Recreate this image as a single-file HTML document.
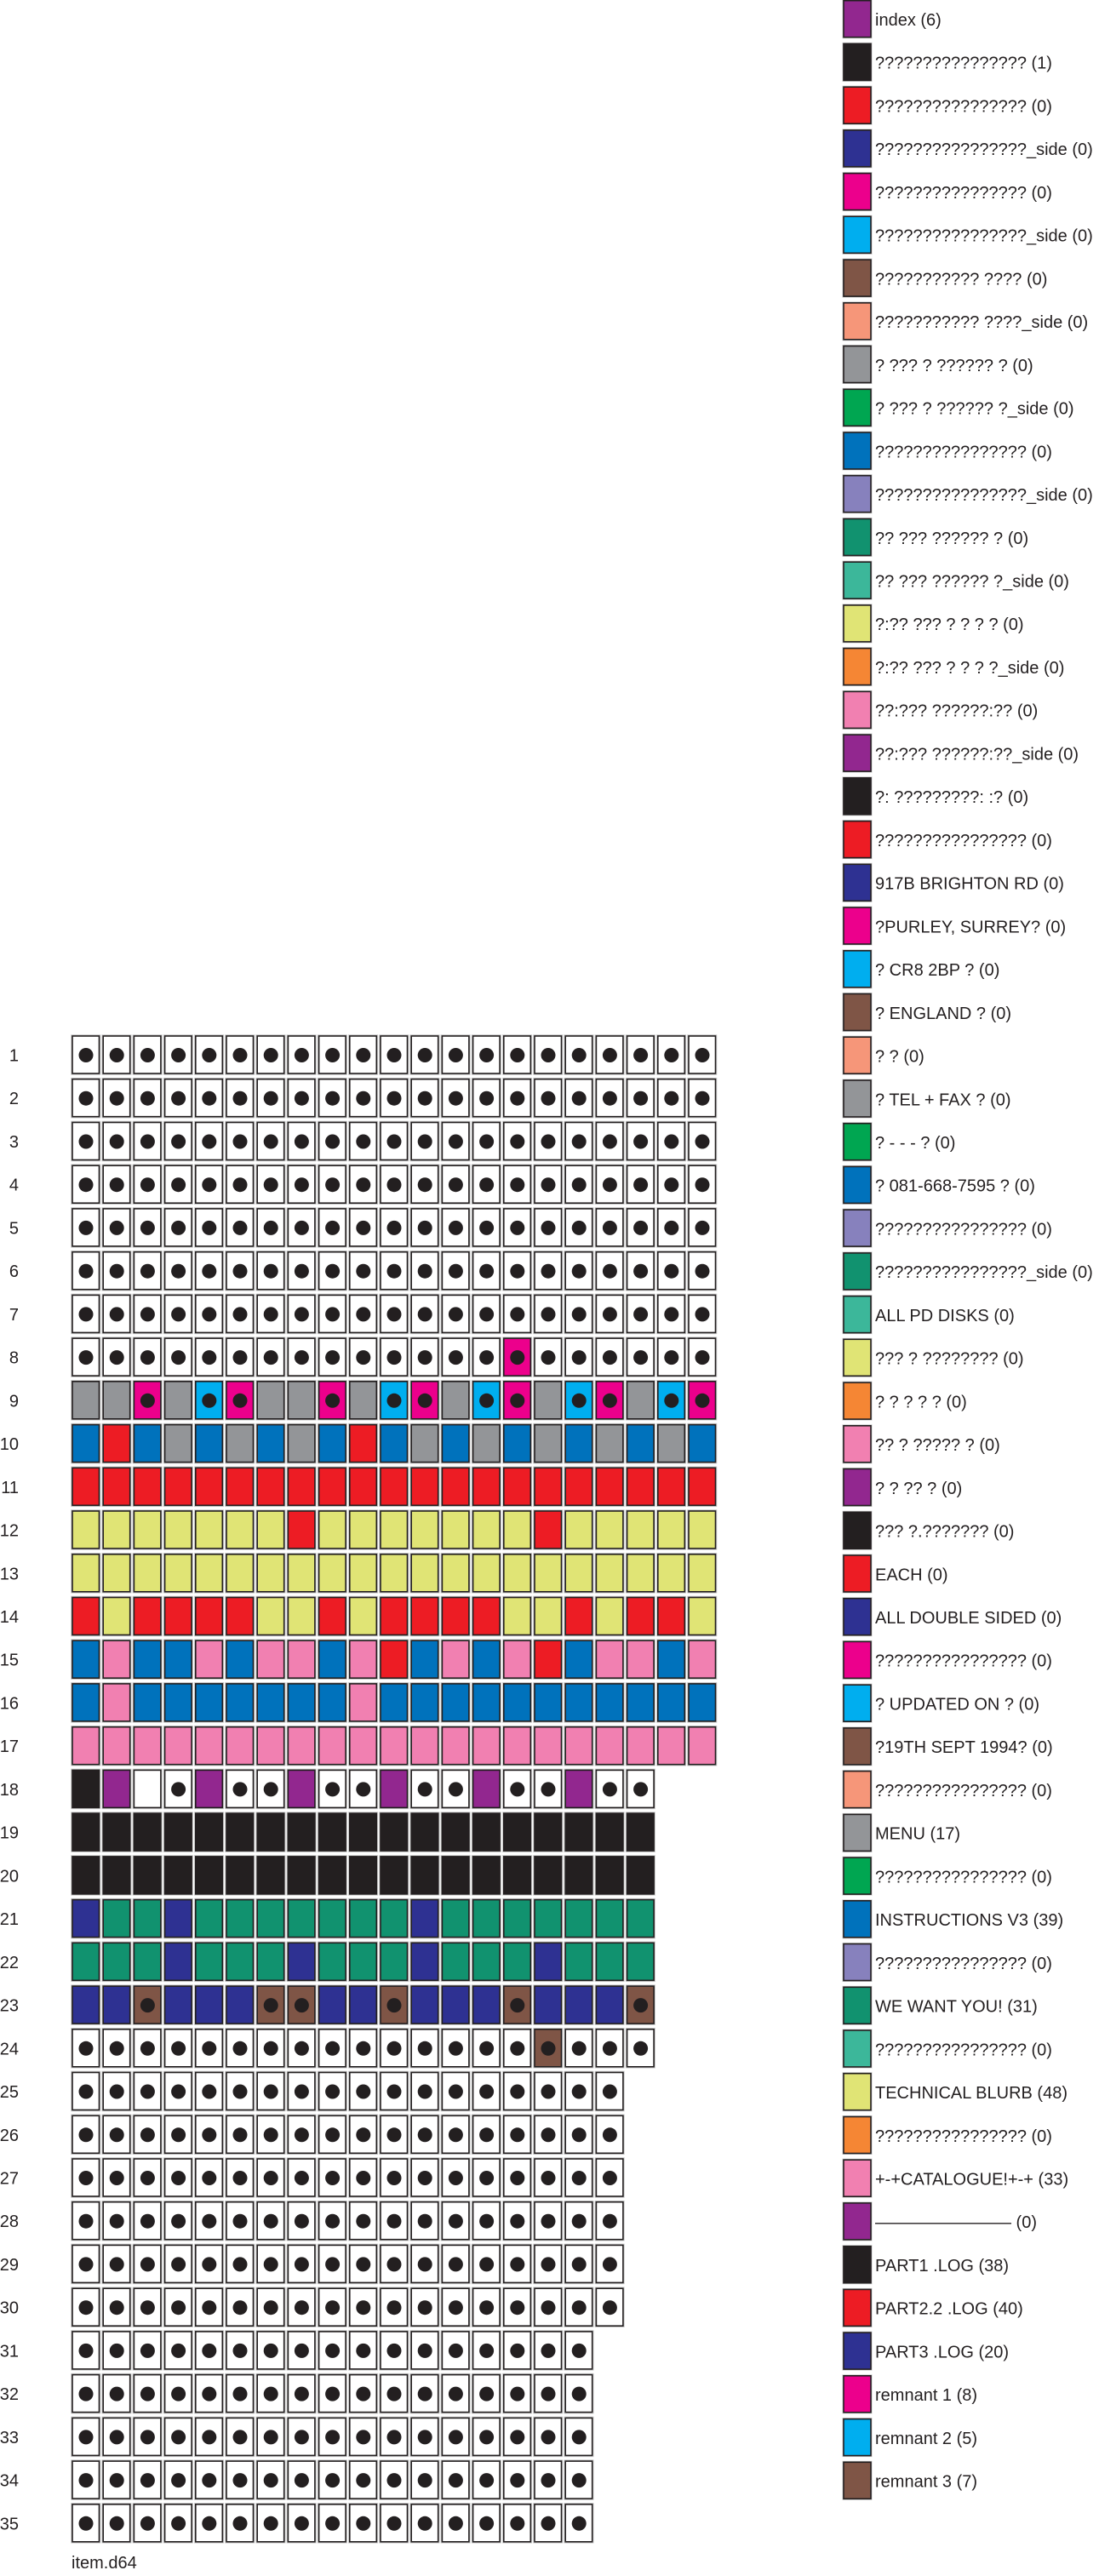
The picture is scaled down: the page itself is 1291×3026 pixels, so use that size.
<!DOCTYPE html>
<html><head><meta charset="utf-8"><style>
html,body{margin:0;padding:0;background:#fff}
svg{display:block}
text{font-family:"Liberation Sans",sans-serif;font-size:20px;fill:#231f20}
</style></head><body>
<svg id="s" width="1291" height="3026" viewBox="0 0 1291 3026" xmlns="http://www.w3.org/2000/svg">
<g id="grid"></g>
<g id="leg"></g>
<text x="84" y="3017">item.d64</text>
<g font-family="Liberation Sans, sans-serif" font-size="20" fill="#231f20">
<text x="1028" y="30">index (6)</text>
<text x="1028" y="80.7">???????????????? (1)</text>
<text x="1028" y="131.5">???????????????? (0)</text>
<text x="1028" y="182.2">????????????????_side (0)</text>
<text x="1028" y="232.9">???????????????? (0)</text>
<text x="1028" y="283.7">????????????????_side (0)</text>
<text x="1028" y="334.4">??????????? ???? (0)</text>
<text x="1028" y="385.1">??????????? ????_side (0)</text>
<text x="1028" y="435.8">? ??? ? ?????? ? (0)</text>
<text x="1028" y="486.6">? ??? ? ?????? ?_side (0)</text>
<text x="1028" y="537.3">???????????????? (0)</text>
<text x="1028" y="588">????????????????_side (0)</text>
<text x="1028" y="638.8">?? ??? ?????? ? (0)</text>
<text x="1028" y="689.5">?? ??? ?????? ?_side (0)</text>
<text x="1028" y="740.2">?:?? ??? ? ? ? ? (0)</text>
<text x="1028" y="791">?:?? ??? ? ? ? ?_side (0)</text>
<text x="1028" y="841.7">??:??? ??????:?? (0)</text>
<text x="1028" y="892.4">??:??? ??????:??_side (0)</text>
<text x="1028" y="943.1">?: ?????????: :? (0)</text>
<text x="1028" y="993.9">???????????????? (0)</text>
<text x="1028" y="1044.6">917B BRIGHTON RD (0)</text>
<text x="1028" y="1095.3">?PURLEY, SURREY? (0)</text>
<text x="1028" y="1146.1">? CR8 2BP ? (0)</text>
<text x="1028" y="1196.8">? ENGLAND ? (0)</text>
<text x="1028" y="1247.5">? ? (0)</text>
<text x="1028" y="1298.3">? TEL + FAX ? (0)</text>
<text x="1028" y="1349">? - - - ? (0)</text>
<text x="1028" y="1399.7">? 081-668-7595 ? (0)</text>
<text x="1028" y="1450.4">???????????????? (0)</text>
<text x="1028" y="1501.2">????????????????_side (0)</text>
<text x="1028" y="1551.9">ALL PD DISKS (0)</text>
<text x="1028" y="1602.6">??? ? ???????? (0)</text>
<text x="1028" y="1653.4">? ? ? ? ? (0)</text>
<text x="1028" y="1704.1">?? ? ????? ? (0)</text>
<text x="1028" y="1754.8">? ? ?? ? (0)</text>
<text x="1028" y="1805.6">??? ?.??????? (0)</text>
<text x="1028" y="1856.3">EACH (0)</text>
<text x="1028" y="1907">ALL DOUBLE SIDED (0)</text>
<text x="1028" y="1957.7">???????????????? (0)</text>
<text x="1028" y="2008.5">? UPDATED ON ? (0)</text>
<text x="1028" y="2059.2">?19TH SEPT 1994? (0)</text>
<text x="1028" y="2109.9">???????????????? (0)</text>
<text x="1028" y="2160.7">MENU (17)</text>
<text x="1028" y="2211.4">???????????????? (0)</text>
<text x="1028" y="2262.1">INSTRUCTIONS V3 (39)</text>
<text x="1028" y="2312.9">???????????????? (0)</text>
<text x="1028" y="2363.6">WE WANT YOU! (31)</text>
<text x="1028" y="2414.3">???????????????? (0)</text>
<text x="1028" y="2465">TECHNICAL BLURB (48)</text>
<text x="1028" y="2515.8">???????????????? (0)</text>
<text x="1028" y="2566.5">+-+CATALOGUE!+-+ (33)</text>
<text x="1028" y="2617.2">———————— (0)</text>
<text x="1028" y="2668">PART1 .LOG (38)</text>
<text x="1028" y="2718.7">PART2.2 .LOG (40)</text>
<text x="1028" y="2769.4">PART3 .LOG (20)</text>
<text x="1028" y="2820.2">remnant 1 (8)</text>
<text x="1028" y="2870.9">remnant 2 (5)</text>
<text x="1028" y="2921.6">remnant 3 (7)</text>
</g>
</svg>
<script>
var C={Pu:"#92278f",K:"#231f20",R:"#ed1c24",N:"#2e3192",M:"#ec008c",Cy:"#00aeef",Br:"#7f5546",S:"#f69679",G:"#939598",Gr:"#00a651",B:"#0072bc",L:"#8781bd",T:"#11926f",Mi:"#3cb79a",Y:"#e0e475",O:"#f58634",P:"#f180b1",W:"#ffffff"};
var dotted={W:1,M:1,Cy:1,Br:1};
function rep(x,n){var a=[];for(var i=0;i<n;i++)a.push(x);return a;}
var rows=[];
for(var i=0;i<7;i++)rows.push(rep("W",21));
var r8=rep("W",21);r8[14]="M";rows.push(r8);
rows.push("G G M G Cy M G G M G Cy M G Cy M G Cy M G Cy M".split(" "));
rows.push("B R B G B G B G B R B G B G B G B G B G B".split(" "));
rows.push(rep("R",21));
var r12=rep("Y",21);r12[7]="R";r12[15]="R";rows.push(r12);
rows.push(rep("Y",21));
rows.push("R Y R R R R Y Y R Y R R R R Y Y R Y R R Y".split(" "));
rows.push("B P B B P B P P B P R B P B P R B P P B P".split(" "));
var r16=rep("B",21);r16[1]="P";r16[9]="P";rows.push(r16);
rows.push(rep("P",21));
rows.push("K Pu X W Pu W W Pu W W Pu W W Pu W W Pu W W".split(" "));
rows.push(rep("K",19));rows.push(rep("K",19));
rows.push("N T T N T T T T T T T N T T T T T T T".split(" "));
rows.push("T T T N T T T N T T T N T T T N T T T".split(" "));
rows.push("N N Br N N N Br Br N N Br N N N Br N N N Br".split(" "));
var r24=rep("W",19);r24[15]="Br";rows.push(r24);
for(var i=0;i<6;i++)rows.push(rep("W",18));
for(var i=0;i<5;i++)rows.push(rep("W",17));
var h="";
for(var r=0;r<rows.length;r++){
 var y=1217+r*50.73;
 h+='<text x="22" y="'+(y+29.5).toFixed(1)+'" text-anchor="end">'+(r+1)+'</text>';
 for(var c=0;c<rows[r].length;c++){
  var k=rows[r][c];var x=85+c*36.2;
  var fill=k=="X"?"#fff":C[k];
  h+='<rect x="'+x.toFixed(1)+'" y="'+y.toFixed(1)+'" width="31.5" height="44" fill="'+fill+'" stroke="#c8c8c8" stroke-width="3.5"/>';
  h+='<rect x="'+x.toFixed(1)+'" y="'+y.toFixed(1)+'" width="31.5" height="44" fill="'+fill+'" stroke="#231f20" stroke-width="1.6"/>';
  if(dotted[k])h+='<circle cx="'+(x+16).toFixed(1)+'" cy="'+(y+22.5).toFixed(1)+'" r="8.5" fill="#231f20"/>';
 }
}
document.getElementById("grid").innerHTML=h;
var lc=["Pu","K","R","N","M","Cy","Br","S","G","Gr","B","L","T","Mi","Y","O","P"];
var g="";
for(var i=0;i<58;i++){
 var y=i*50.73+0.7;var col=C[lc[i%17]];
 g+='<rect x="991" y="'+y.toFixed(1)+'" width="32" height="43" fill="'+col+'" stroke="#c8c8c8" stroke-width="3"/>';
 g+='<rect x="991" y="'+y.toFixed(1)+'" width="32" height="43" fill="'+col+'" stroke="#231f20" stroke-width="1.6"/>';
}
document.getElementById("leg").innerHTML=g;
</script>
</body></html>
